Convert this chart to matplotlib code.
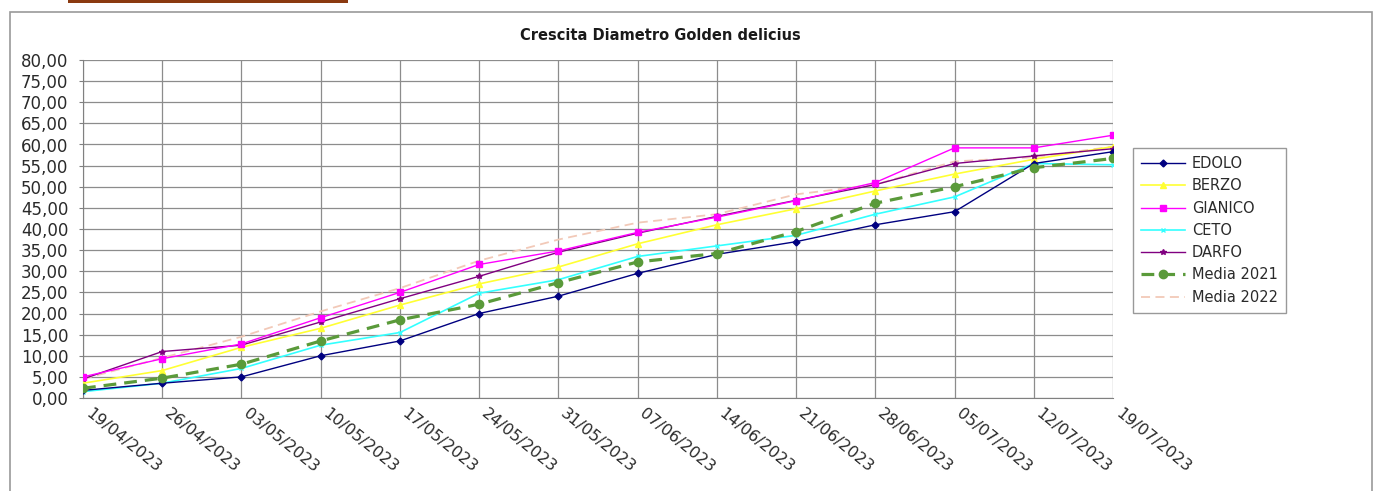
import matplotlib.pyplot as plt
from matplotlib.patches import Rectangle
from matplotlib.ticker import FuncFormatter
from matplotlib.transforms import ScaledTranslation

dates = ['19/04/2023', '26/04/2023', '03/05/2023', '10/05/2023', '17/05/2023',
         '24/05/2023', '31/05/2023', '07/06/2023', '14/06/2023', '21/06/2023',
         '28/06/2023', '05/07/2023', '12/07/2023', '19/07/2023']

edolo = [1.8, 3.5, 5.0, 10.0, 13.5, 20.0, 24.1, 29.5, 34.0, 37.0, 41.0, 44.1, 55.5, 58.3]
berzo = [3.5, 6.5, 12.0, 16.5, 22.0, 27.0, 31.0, 36.5, 41.0, 44.8, 49.0, 53.0, 56.5, 59.5]
gianico = [5.0, 9.3, 12.8, 19.0, 25.0, 31.6, 34.8, 39.2, 42.8, 46.7, 51.0, 59.2, 59.2, 62.2]
ceto = [1.5, 3.5, 7.0, 12.5, 15.5, 24.8, 28.0, 33.5, 36.0, 38.5, 43.5, 47.6, 55.5, 55.2]
darfo = [4.5, 11.0, 12.5, 18.0, 23.5, 28.8, 34.5, 39.0, 43.0, 46.8, 50.5, 55.5, 57.3, 59.0]
media_2021 = [2.3, 4.7, 8.0, 13.5, 18.5, 22.2, 27.3, 32.2, 34.2, 39.4, 46.1, 50.0, 54.5, 56.7]
media_2022 = [4.5, 9.5, 14.5, 20.5, 26.0, 32.5, 37.5, 41.5, 43.5, 48.2, 50.5, 56.0, 57.0, 59.5]

plt.rcParams['font.family'] = ['DejaVu Sans']

fig = plt.figure(figsize=(13.81, 4.91), dpi=100)
W, H = 1381, 491

# outer frame and the brown strip at the top
fig.patches.append(Rectangle((10 / W, -0.05), 1362 / W, 1.05 - 12 / H,
                             transform=fig.transFigure, fill=False,
                             edgecolor='#9a9a9a', linewidth=1.2))
fig.patches.append(Rectangle((68 / W, 1 - 3 / H), 280 / W, 3 / H,
                             transform=fig.transFigure, facecolor='#8b3a10',
                             edgecolor='none'))

ax = fig.add_axes([83 / W, 1 - 398 / H, 1030 / W, 338 / H])
x = range(len(dates))

ax.plot(x, media_2022, color='#f2c9b8', linestyle=(0, (5, 3)), linewidth=1.3,
        label='Media 2022', zorder=2)
ax.plot(x, berzo, color='#ffff33', linewidth=1.2, marker='^', markersize=4,
        label='BERZO', zorder=3)
ax.plot(x, ceto, color='#33ffff', linewidth=1.2, marker='x', markersize=3,
        label='CETO', zorder=3)
ax.plot(x, darfo, color='#800080', linewidth=1.0, marker='*', markersize=4,
        label='DARFO', zorder=4)
ax.plot(x, gianico, color='#ff00ff', linewidth=1.0, marker='s', markersize=5,
        label='GIANICO', zorder=4)
ax.plot(x, edolo, color='#000080', linewidth=1.0, marker='D', markersize=3.5,
        label='EDOLO', zorder=5)
ax.plot(x, media_2021, color='#5a9a3a', linestyle=(0, (4, 2.5)), linewidth=2.3,
        marker='o', markersize=6, label='Media 2021', zorder=5)

ax.set_xlim(0, len(dates) - 1)
ax.set_ylim(0, 80)
ax.set_yticks(range(0, 81, 5))
ax.yaxis.set_major_formatter(FuncFormatter(lambda v, p: f'{v:.2f}'.replace('.', ',')))
ax.set_xticks(list(x))
ax.set_xticklabels(dates, rotation=-39, ha='left', va='top', rotation_mode='anchor')
ax.tick_params(axis='y', labelsize=12, labelcolor='#2a2a2a', length=3,
               color='#808080', pad=7.5)
ax.tick_params(axis='x', labelsize=11.5, labelcolor='#2a2a2a', length=0, pad=6)
shift = ScaledTranslation(9 / 100, 0, fig.dpi_scale_trans)
for lbl in ax.get_xticklabels():
    lbl.set_transform(lbl.get_transform() + shift)
ax.grid(True, color='#8c8c8c', linewidth=0.9)
ax.set_axisbelow(True)
for side in ['top', 'right']:
    ax.spines[side].set_visible(False)
for side in ['left', 'bottom']:
    ax.spines[side].set_color('#808080')

fig.text(660 / W, 1 - 35 / H, 'Crescita Diametro Golden delicius', ha='center',
         va='center', fontsize=10.5, fontweight='bold', color='#1a1a1a')

handles, labels = ax.get_legend_handles_labels()
order = ['EDOLO', 'BERZO', 'GIANICO', 'CETO', 'DARFO', 'Media 2021', 'Media 2022']
hmap = dict(zip(labels, handles))
leg = fig.legend([hmap[k] for k in order], order, loc='upper left',
                 bbox_to_anchor=(1133 / W, 1 - 148 / H), borderaxespad=0,
                 fontsize=10.5, frameon=True, fancybox=False, edgecolor='#808080',
                 handlelength=3.0, labelspacing=0.5, borderpad=0.55,
                 handletextpad=0.5, labelcolor='#2a2a2a')
leg.get_frame().set_linewidth(1.0)

fig.savefig('out.png', dpi=100)
